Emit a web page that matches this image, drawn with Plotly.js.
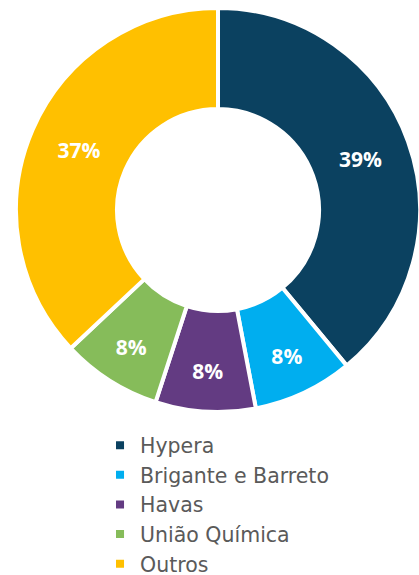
<!DOCTYPE html>
<html><head><meta charset="utf-8">
<script src="https://cdn.plot.ly/plotly-3.0.1.min.js"></script>
<style>html,body{margin:0;padding:0;background:#fff;overflow:hidden}</style>
</head><body>
<div id="chart" style="width:419px;height:575px"></div>
<script>
const labels = ["Hypera", "Brigante e Barreto", "Havas", "União Química", "Outros"];
const values = [39, 8, 8, 8, 37];
const colors = ["#0b4160", "#00aeef", "#633b82", "#86bc5a", "#ffc000"];

Plotly.newPlot("chart", [{
  type: "pie",
  labels: labels,
  values: values,
  hole: 0.5,
  sort: false,
  direction: "clockwise",
  rotation: 0,
  domain: {x: [0, 1], y: [0.2875, 1]},
  marker: {colors: colors, line: {color: "#ffffff", width: 4}},
  textinfo: "percent",
  texttemplate: "%{percent:.0%}",
  textposition: "inside",
  insidetextorientation: "horizontal",
  textfont: {family: "Open Sans", size: 21, color: "#ffffff", weight: 700},
  hoverinfo: "none"
}], {
  width: 420, height: 575,
  margin: {l: 16, r: 0, t: 8, b: 0, autoexpand: false},
  paper_bgcolor: "#ffffff",
  showlegend: true,
  legend: {
    x: 0.208, xanchor: "left", y: 0.2640, yanchor: "top",
    orientation: "v",
    font: {family: "DejaVu Sans", size: 20.5, color: "#5a5a5a"},
    itemclick: false, itemdoubleclick: false
  }
}, {staticPlot: true, displayModeBar: false});
</script>
</body></html>
